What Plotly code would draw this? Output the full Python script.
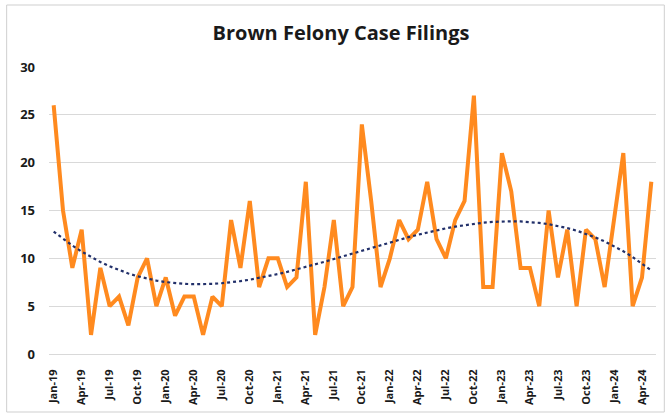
import numpy as np
import plotly.graph_objects as go

months = ["Jan-19","Feb-19","Mar-19","Apr-19","May-19","Jun-19","Jul-19","Aug-19","Sep-19","Oct-19","Nov-19","Dec-19",
          "Jan-20","Feb-20","Mar-20","Apr-20","May-20","Jun-20","Jul-20","Aug-20","Sep-20","Oct-20","Nov-20","Dec-20",
          "Jan-21","Feb-21","Mar-21","Apr-21","May-21","Jun-21","Jul-21","Aug-21","Sep-21","Oct-21","Nov-21","Dec-21",
          "Jan-22","Feb-22","Mar-22","Apr-22","May-22","Jun-22","Jul-22","Aug-22","Sep-22","Oct-22","Nov-22","Dec-22",
          "Jan-23","Feb-23","Mar-23","Apr-23","May-23","Jun-23","Jul-23","Aug-23","Sep-23","Oct-23","Nov-23","Dec-23",
          "Jan-24","Feb-24","Mar-24","Apr-24","May-24"]
filings = [26, 15, 9, 13, 2, 9, 5, 6, 3, 8, 10, 5,
           8, 4, 6, 6, 2, 6, 5, 14, 9, 16, 7, 10,
           10, 7, 8, 18, 2, 7, 14, 5, 7, 24, 16, 7,
           10, 14, 12, 13, 18, 12, 10, 14, 16, 27, 7, 7,
           21, 17, 9, 9, 5, 15, 8, 13, 5, 13, 12, 7,
           14, 21, 5, 8, 18]
tick_labels = months[::3]
y_ticks = [0, 5, 10, 15, 20, 25, 30]

x_idx = list(range(len(months)))
# polynomial (order 3) trendline, as in the original spreadsheet chart
coef = np.polyfit(x_idx, filings, 3)
trend = np.polyval(coef, x_idx)

W, H = 668, 415
L, R, T, B = 49.3, 12.3, 67, 61
pw, ph = W - L - R, H - T - B

fig = go.Figure()
fig.add_trace(go.Scatter(x=x_idx, y=filings, mode="lines",
                         line=dict(color="#FF8A1F", width=4), hoverinfo="x+y",
                         showlegend=False))
fig.add_trace(go.Scatter(x=x_idx, y=trend, mode="lines",
                         line=dict(color="#22306A", width=2.2, dash="dot"),
                         showlegend=False))

font_fam = "'Open Sans', 'DejaVu Sans', sans-serif"
fig.update_layout(
    width=W, height=H,
    margin=dict(l=L, r=R, t=T, b=B, autoexpand=False),
    paper_bgcolor="white", plot_bgcolor="white",
    title=dict(text="<b>Brown Felony Case Filings</b>", x=341 / W, xanchor="center",
               y=1 - 33 / H, yanchor="middle", yref="container",
               font=dict(family=font_fam, size=20, color="#1a1a1a")),
    xaxis=dict(range=[-0.5, len(months) - 0.5], tickmode="array",
               tickvals=x_idx[::3], ticktext=[f"<b>{t}</b>" for t in tick_labels],
               tickangle=-90, showgrid=False, zeroline=False, automargin=False,
               showline=True, linecolor="#D9D9D9", linewidth=1,
               ticks="", ticklabelstandoff=10,
               tickfont=dict(family=font_fam, size=11, color="#1a1a1a")),
    yaxis=dict(range=[0, 30], tickmode="array", tickvals=y_ticks,
               ticktext=[f"<b>{v}</b>" for v in y_ticks], automargin=False,
               showgrid=True, gridcolor="#D9D9D9", gridwidth=1, zeroline=False,
               showline=False, ticks="", ticklabelstandoff=13,
               tickfont=dict(family=font_fam, size=13, color="#1a1a1a")),
    shapes=[dict(type="rect", xref="paper", yref="paper",
                 x0=(7 - L) / pw, x1=(664 - L) / pw,
                 y0=(H - B - 412) / ph, y1=(H - B - 5) / ph,
                 line=dict(color="#CFCFCF", width=1), fillcolor="rgba(0,0,0,0)",
                 layer="above")],
)
fig.write_html("out.html", config={"displayModeBar": False},
               post_script="document.body.style.margin='0';document.body.style.overflow='hidden';")
